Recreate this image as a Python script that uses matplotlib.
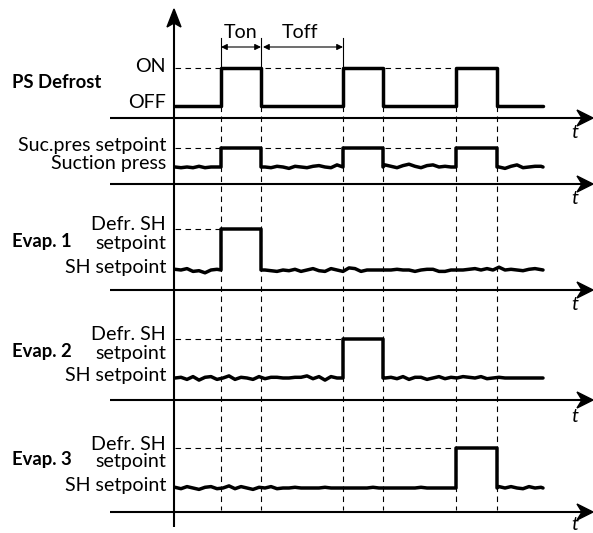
import matplotlib
matplotlib.use('Agg')
import matplotlib.pyplot as plt
from matplotlib.patches import Polygon

# ---------------- data ----------------
pulse_on = [46, 168, 281]          # time of rising edges
pulse_off = [86, 208, 322]         # time of falling edges
t_end = 368
row_names = ["PS Defrost", "", "Evap. 1", "Evap. 2", "Evap. 3"]
row_pulses = [[0, 1, 2], [0, 1, 2], [0], [1], [2]]   # which pulses appear in each row
high_labels = ["ON", "Suc.pres setpoint", "Defr. SH\nsetpoint", "Defr. SH\nsetpoint", "Defr. SH\nsetpoint"]
low_labels = ["OFF", "Suction press", "SH setpoint", "SH setpoint", "SH setpoint"]
wiggle_step = 6
# hand-read wiggle of each signal around its low level (px, + = up), sampled every 6 time units
wiggle_ps = [0] * 62
wiggle_suc = [0, -0.5, 0, -0.5, 0.5, -0.5, 0, 0,
              0, 0, 0, 0, 0, 0, 0,
              0, -0.5, 0.5, 0, -1, 0.5, 0, -0.5, 0.5, 1, 0, -0.5, 1.5, 0,
              0, 0, 0, 0, 0, 0,
              1.5, 0.5, -0.5, 1, 2, 0.5, -0.5, 1, 1.5, 0, 0.5, 0,
              0, 0, 0, 0, 0, 0, 0,
              0, -1, 0.5, 1.5, -0.5, 0, 0.5, 0.5]
wiggle_e1 = [0.5, 0, 1, -1, -0.5, -2, 0, 0.5,
             0, 0, 0, 0, 0, 0, 0,
             0, -0.5, -1, 0, -0.5, 0.5, -1, 0, 1, -0.5, -1, 1, 0, -1,
             1.5, 1, -1, 0, 0, 0, 0, 0, 0.5, 0, 0, -1, 0, 0.5, 0.5,
             -1, -1, 0, 0, 0, 0.5, 1, 0, 1, 0, 2, 0, 0.5, 0, -0.5, 0.5, 1]
wiggle_e2 = [0, 0.5, -1, 1, -1.5, 0.5, 1, -1, 0, 1.5, -1, 0.5, 0, -1, 1,
             -0.5, 0.5, 0.5, 0, 0, 0.5, 0.5, 1.5, -0.5, 1, -1.5, 1, 0,
             0, 0, 0, 0, 0, 0, 0,
             0, 0.5, -0.5, 1, -1, 0.5, 0.5, -1, 0, 1, -0.5, 0.5, 0, 1, 0.5, 0,
             1, -0.5, 0, 0.5, 0, 0, 0, 0, 0, 0, 0]
wiggle_e3 = [0.5, -0.5, 1, 0, -1, 0.5, 1, -0.5, 0, 1.5, -0.5, 1, 0, -1, 0.5,
             0, 1, -0.5, 0, 0, 0.5, 0, 0, 0, 0, 0.5, 0, 0, 0, 0, 0, 0, 0, 0.5,
             0, 0, 0, 0, 0, 0, 0, 0.5, 0, 0, 0, 0, 0, 0,
             0, 0, 0, 0, 0, 0,
             1, 0, 1, 0, -0.5, 1, 0, 0.5]
row_wiggles = [wiggle_ps, wiggle_suc, wiggle_e1, wiggle_e2, wiggle_e3]

# ---------------- layout ----------------
W, H = 593, 533
fig = plt.figure(figsize=(W / 100, H / 100), dpi=100)
ax = fig.add_axes([0, 0, 1, 1])
ax.set_xlim(0, W)
ax.set_ylim(H, 0)
ax.axis('off')
renderer = fig.canvas.get_renderer()

FONT = 'Lato'

def fit_size(text, target_px, weight='normal'):
    t = fig.text(0, 0, text, fontsize=10, family=FONT, weight=weight)
    w = t.get_window_extent(renderer=renderer).width
    t.remove()
    return 10 * target_px / w

FS = (fit_size("Suc.pres setpoint", 153) + fit_size("SH setpoint", 104) + fit_size("ON", 29)) / 3
FSB = fit_size("PS Defrost", 89, 'bold')

X0 = 175
def X(t):
    return X0 + t

axis_y = [118, 184, 290, 400, 512]
low_y = [106, 167, 270, 378, 488]
high_y = [68, 148, 229, 339, 448]
name_y = [83, None, 241, 351, 460]
t_y = [133, 198, 305, 417, 525]

SIG_LW = 2.5
AX_LW = 1.5
DASH = (0, (5, 4))
WSCALE = 1.4

# vertical axis
ax.plot([X0 - 1, X0 - 1], [527, 20], color='k', lw=AX_LW, solid_capstyle='butt')
ax.add_patch(Polygon([(X0 - 1, 9), (X0 - 8, 27), (X0 - 1, 23), (X0 + 6, 27)], closed=True, color='k'))

# vertical dashed guide lines
for t in pulse_on + pulse_off:
    ax.plot([X(t), X(t)], [106, 510], color='k', lw=0.8, ls=DASH)

for i in range(5):
    ya, yl, yh = axis_y[i], low_y[i], high_y[i]
    # horizontal time axis with arrow
    ax.plot([110, 584], [ya, ya], color='k', lw=AX_LW, solid_capstyle='butt')
    ax.add_patch(Polygon([(593, ya), (577, ya - 8), (582, ya), (577, ya + 8)], closed=True, color='k'))
    ax.text(575, t_y[i], 't', fontsize=FS, style='italic', family=FONT, ha='center', va='center')

    # dashed high-level reference line
    last_on = max(pulse_on[p] for p in row_pulses[i])
    ax.plot([X0, X(last_on)], [yh, yh], color='k', lw=0.8, ls=DASH)

    # signal trace
    wig = row_wiggles[i]
    xs, ys = [], []
    intervals = [(pulse_on[p], pulse_off[p]) for p in row_pulses[i]]
    for k, w in enumerate(wig):
        t = k * wiggle_step
        if t > t_end:
            break
        inside = any(a <= t <= b for a, b in intervals)
        for a, b in intervals:
            if xs and X(a) > xs[-1] and X(a) <= X(t):
                xs += [X(a), X(a), X(b), X(b)]
                ys += [yl, yh, yh, yl]
        if not inside:
            xs.append(X(t))
            ys.append(yl - w * WSCALE)
    xs.append(X(t_end))
    ys.append(yl)
    ax.plot(xs, ys, color='k', lw=SIG_LW, solid_joinstyle='round', solid_capstyle='round')

    # labels
    if '\n' in high_labels[i]:
        l1, l2 = high_labels[i].split('\n')
        ax.text(166, yh - 4, l1, fontsize=FS, family=FONT, ha='right', va='center')
        ax.text(166, yh + 14, l2, fontsize=FS, family=FONT, ha='right', va='center')
    else:
        ax.text(166, yh - 2, high_labels[i], fontsize=FS, family=FONT, ha='right', va='center')
    ax.text(166, yl - 3, low_labels[i], fontsize=FS, family=FONT, ha='right', va='center')
    if row_names[i]:
        ax.text(12, name_y[i], row_names[i], fontsize=FSB, family=FONT, weight='bold',
                ha='left', va='center')

# Ton / Toff annotations
for t in [pulse_on[0], pulse_off[0], pulse_on[1]]:
    ax.plot([X(t), X(t)], [38, 68], color='k', lw=0.8)
ax.annotate('', xy=(X(pulse_off[0]), 47), xytext=(X(pulse_on[0]), 47),
            arrowprops=dict(arrowstyle='<|-|>', lw=0.8, color='k', mutation_scale=9,
                            shrinkA=0, shrinkB=0))
ax.annotate('', xy=(X(pulse_on[1]), 47), xytext=(X(pulse_off[0]) + 2, 47),
            arrowprops=dict(arrowstyle='<|-|>', lw=0.8, color='k', mutation_scale=9,
                            shrinkA=0, shrinkB=0))
ax.text((X(pulse_on[0]) + X(pulse_off[0])) / 2, 32, 'Ton', fontsize=FS, family=FONT,
        ha='center', va='center')
ax.text(300, 32, 'Toff', fontsize=FS, family=FONT, ha='center', va='center')

fig.savefig('out.png', dpi=100)
